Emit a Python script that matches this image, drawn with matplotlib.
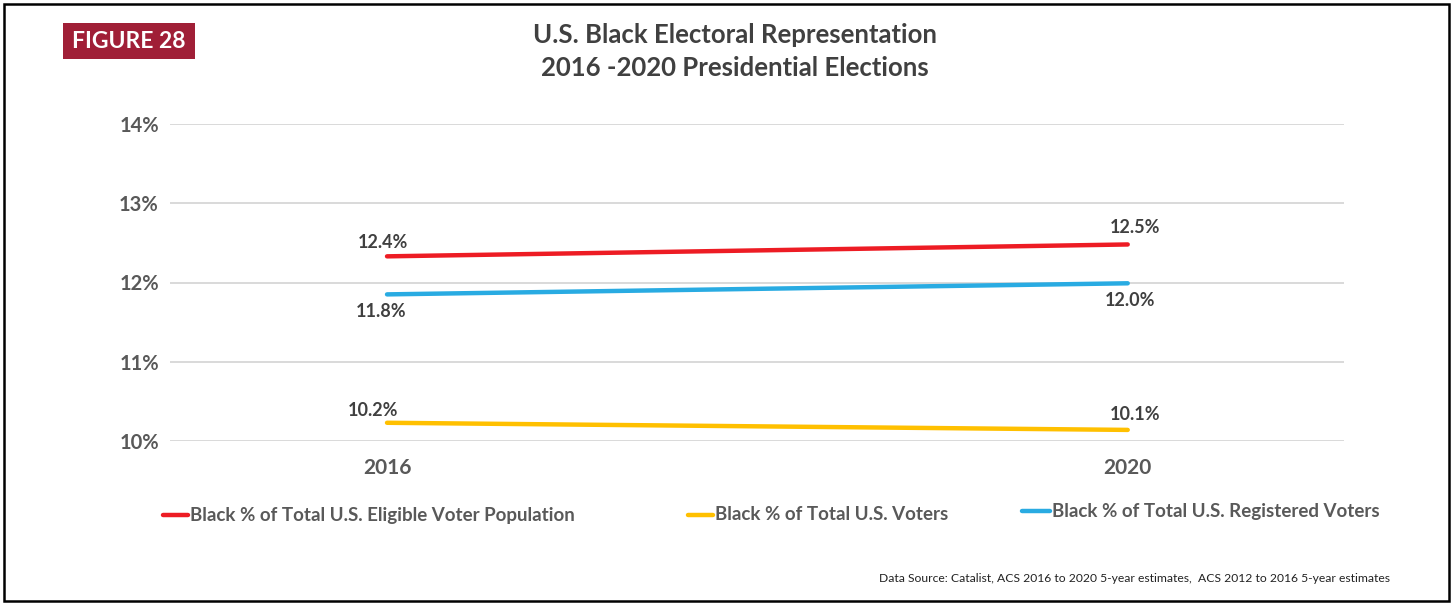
import matplotlib
matplotlib.use("Agg")
import matplotlib.pyplot as plt
from matplotlib.patches import Rectangle
from matplotlib.transforms import ScaledTranslation

plt.rcParams['font.family'] = ['Lato', 'DejaVu Sans']

years = ["2016", "2020"]
eligible = [12.33, 12.48]
voters = [10.23, 10.14]
registered = [11.85, 11.99]
eligible_labels = ["12.4%", "12.5%"]
voters_labels = ["10.2%", "10.1%"]
registered_labels = ["11.8%", "12.0%"]
yticks = [10, 11, 12, 13, 14]
series_names = ["Black % of Total U.S. Eligible Voter Population",
                "Black % of Total U.S. Voters",
                "Black % of Total U.S. Registered Voters"]

W, H = 1453, 605
fig = plt.figure(figsize=(W / 100, H / 100), dpi=100)
fig.patch.set_facecolor("white")

# outer border
fig.add_artist(Rectangle((4 / W, 4 / H), 1 - 8 / W, 1 - 8 / H, transform=fig.transFigure,
                         fill=False, edgecolor="black", linewidth=1.8))

ax = fig.add_axes([170 / W, 1 - 441 / H, (1344 - 170) / W, (441 - 124) / H])
x = list(range(len(years)))
red, yellow, blue = "#ED1C24", "#FFC000", "#29ABE2"
gray = "#595959"

for v in yticks:
    ax.axhline(v, color="#D9D9D9", linewidth=1.4, zorder=0)

ax.plot(x, eligible, color=red, linewidth=3.2, solid_capstyle="round")
ax.plot(x, voters, color=yellow, linewidth=3.2, solid_capstyle="round")
ax.plot(x, registered, color=blue, linewidth=3.2, solid_capstyle="round")

lab_kw = dict(textcoords="offset points", ha="center", fontsize=13,
              fontweight="bold", color="#404040")
ax.annotate(eligible_labels[0], (x[0], eligible[0]), xytext=(-3, 4), va="bottom", **lab_kw)
ax.annotate(eligible_labels[1], (x[1], eligible[1]), xytext=(5, 6), va="bottom", **lab_kw)
ax.annotate(registered_labels[0], (x[0], registered[0]), xytext=(-4, -6), va="top", **lab_kw)
ax.annotate(registered_labels[1], (x[1], registered[1]), xytext=(2, -6), va="top", **lab_kw)
ax.annotate(voters_labels[0], (x[0], voters[0]), xytext=(-10, 3), va="bottom", **lab_kw)
ax.annotate(voters_labels[1], (x[1], voters[1]), xytext=(5, 5), va="bottom", **lab_kw)

ax.set_xlim(-0.293, 1.292)
ax.set_ylim(10, 14)
ax.set_yticks(yticks)
ax.set_yticklabels([f"{v}%" for v in yticks], fontsize=14.5, fontweight="bold", color=gray)
ax.set_xticks(x)
ax.set_xticklabels(years, fontsize=15, fontweight="bold", color=gray)
for lbl in ax.get_xticklabels():
    lbl.set_transform(lbl.get_transform() + ScaledTranslation(7 / 100, 0, fig.dpi_scale_trans))
ax.tick_params(axis="both", length=0)
ax.tick_params(axis="y", pad=8)
ax.tick_params(axis="x", pad=12)
for s in ax.spines.values():
    s.set_visible(False)
ax.set_facecolor("none")

# title
fig.text(735 / W, 1 - 35 / H, "U.S. Black Electoral Representation", ha="center", va="center",
         fontsize=18.5, fontweight="bold", color="#404040")
fig.text(735 / W, 1 - 68 / H, "2016 -2020 Presidential Elections", ha="center", va="center",
         fontsize=18.5, fontweight="bold", color="#404040")

# figure badge
fig.add_artist(Rectangle((63 / W, 1 - 59 / H), (195 - 63) / W, 36 / H, transform=fig.transFigure,
                         facecolor="#A01F37", edgecolor="none"))
fig.text(129 / W, 1 - 42 / H, "FIGURE 28", ha="center", va="center", fontsize=16.5,
         fontweight="bold", color="white")

# legend
legend_items = [(163, 188, 515, red, series_names[0]),
                (688, 713, 515, yellow, series_names[1]),
                (1022, 1050, 511, blue, series_names[2])]
for x0, x1, yy, c, name in legend_items:
    fig.add_artist(plt.Line2D([x0 / W, x1 / W], [1 - yy / H, 1 - yy / H], transform=fig.transFigure,
                              color=c, linewidth=3.2, solid_capstyle="round"))
    fig.text((x1 + 2) / W, 1 - yy / H, name, ha="left", va="center", fontsize=13.5,
             fontweight="bold", color=gray)

fig.text(1390 / W, 1 - 578 / H,
         "Data Source: Catalist, ACS 2016 to 2020 5-year estimates,  ACS 2012 to 2016 5-year estimates",
         ha="right", va="center", fontsize=8.7, color="#222222")

fig.savefig("out.png", dpi=100)
